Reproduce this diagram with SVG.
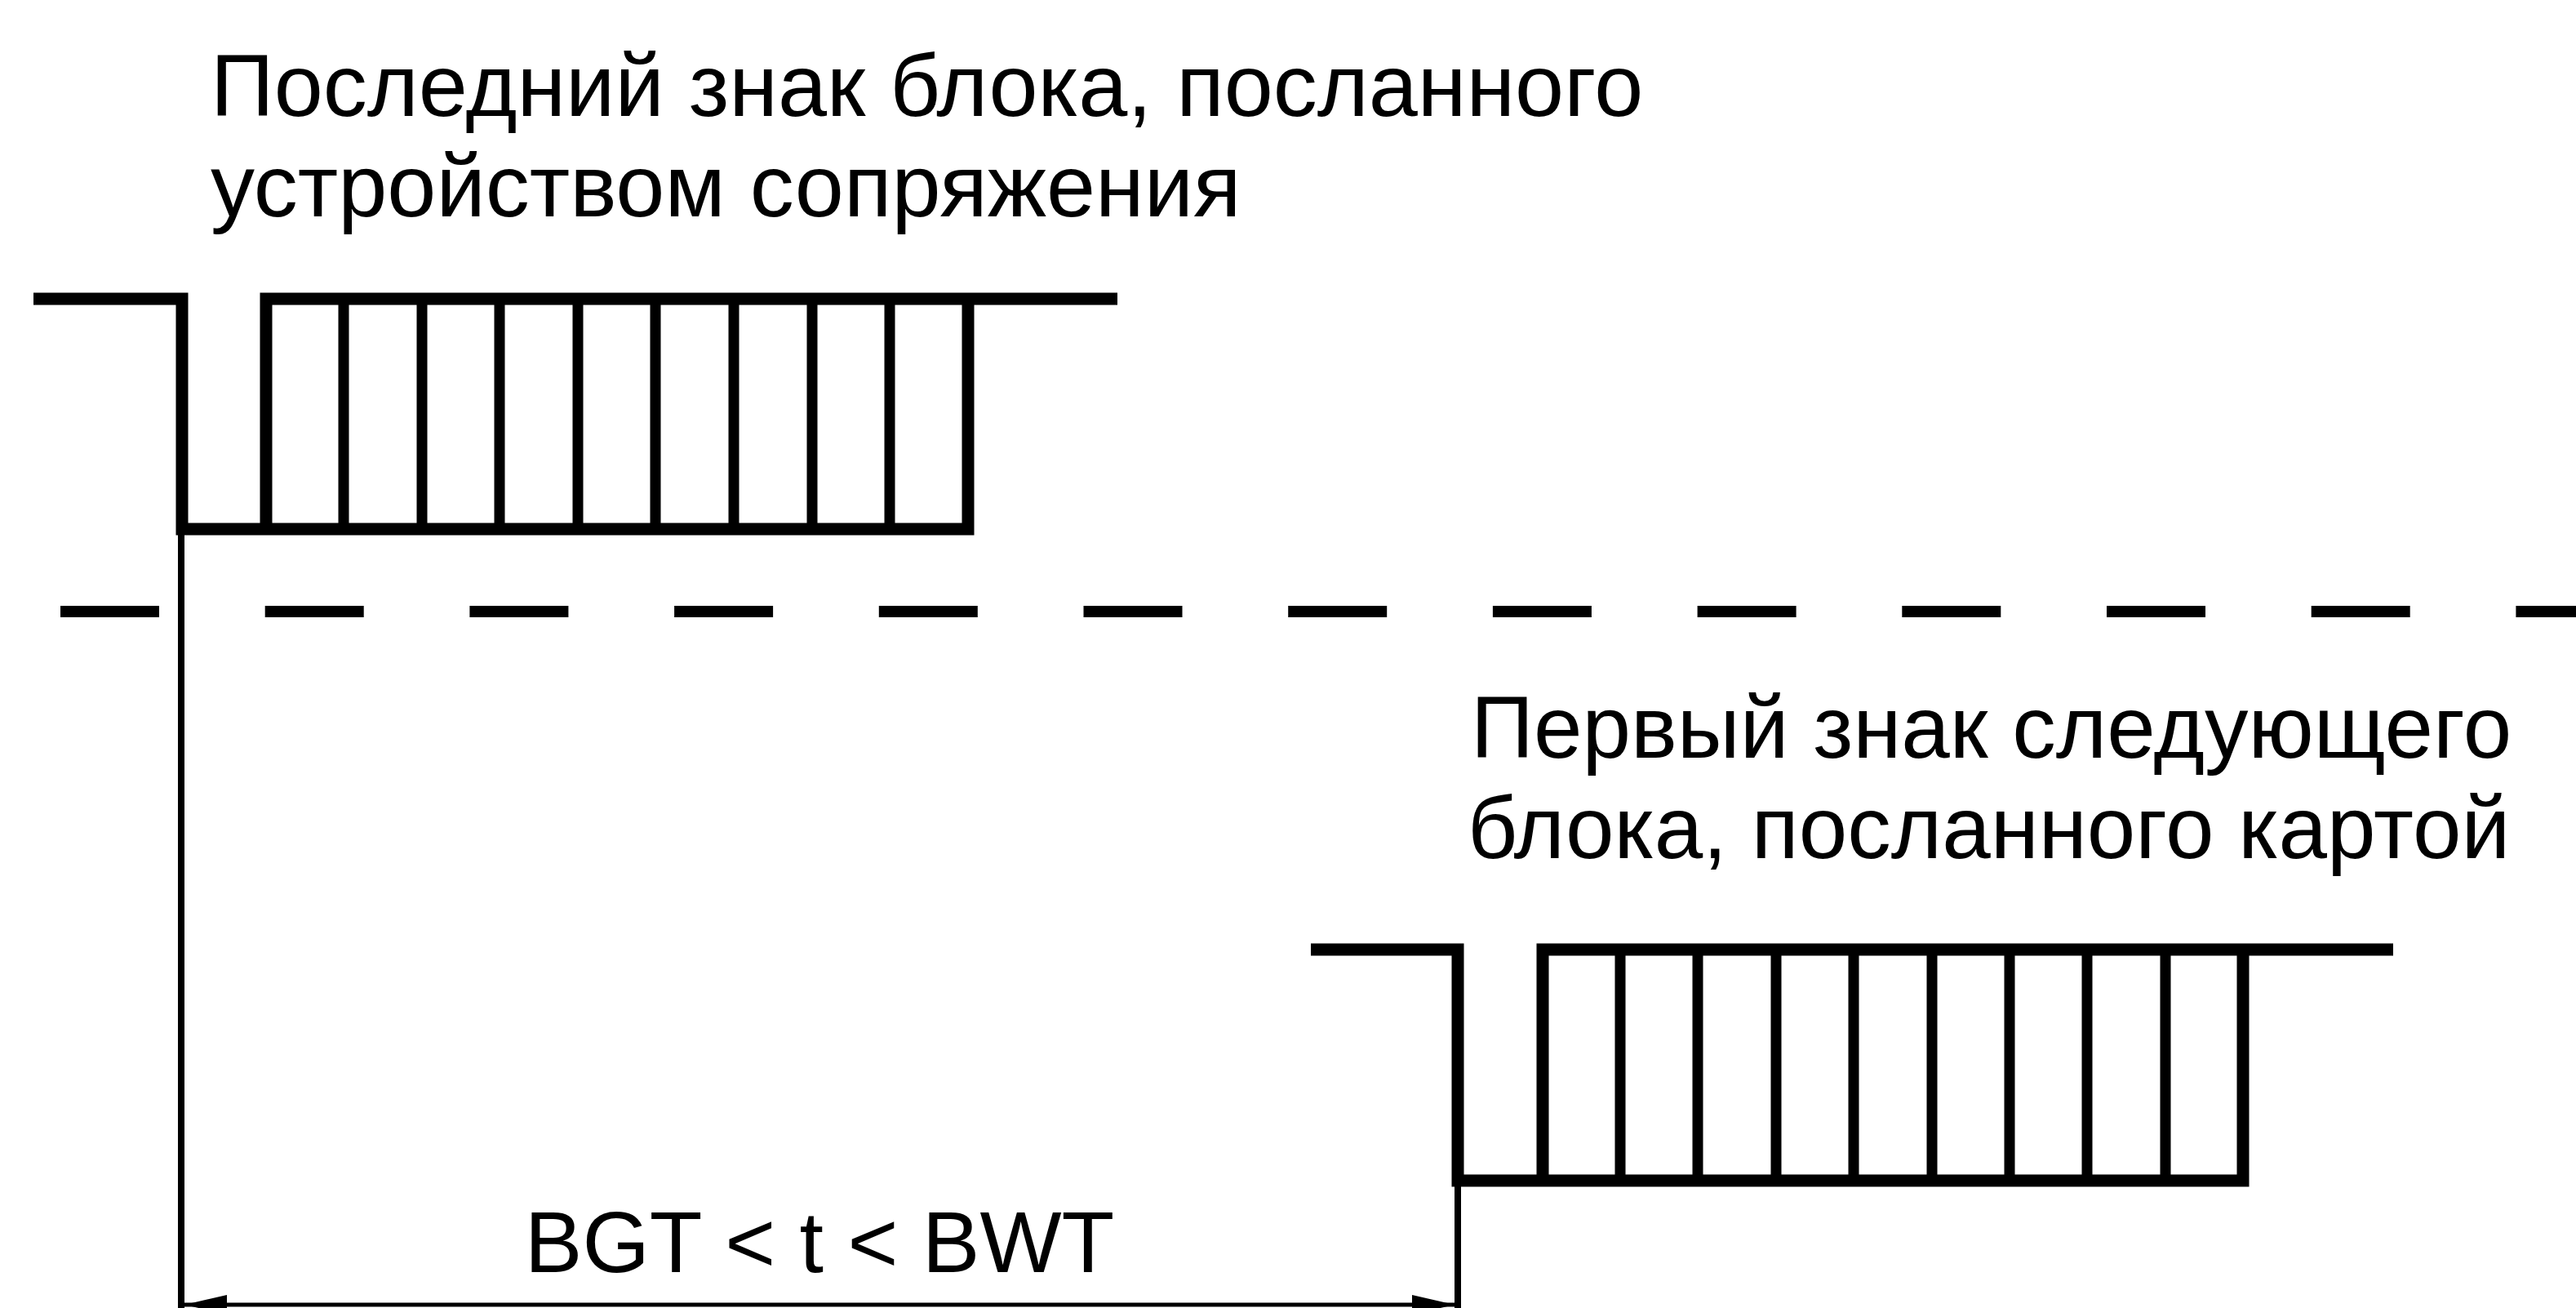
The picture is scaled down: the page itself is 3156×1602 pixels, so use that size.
<svg xmlns="http://www.w3.org/2000/svg" width="3156" height="1602" viewBox="0 0 3156 1602">
  <style>
    .lbl { font-family: "Liberation Sans", Arial, sans-serif; font-size: 107px; fill: #000; }
    .sig { fill: none; stroke: #000; stroke-width: 15; stroke-linejoin: miter; stroke-linecap: butt; }
    .sep { stroke: #000; stroke-width: 13; }
    .ext { stroke: #000; stroke-width: 8; }
    .dim { stroke: #000; stroke-width: 5; fill: none; }
    .dash { stroke: #000; stroke-width: 14; stroke-dasharray: 121 129.7; }
  </style>
  <defs>
    <marker id="arr" markerUnits="userSpaceOnUse" viewBox="0 0 52 24" refX="52" refY="12" markerWidth="52" markerHeight="24" orient="auto-start-reverse">
      <path d="M0 0 L52 12 L0 24 Z" fill="#000"/>
    </marker>
  </defs>
  <rect width="3156" height="1602" fill="#fff"/>

  <g id="label-top">
    <text class="lbl" x="258" y="142" style="font-size:108px">Последний знак блока, посланного</text>
    <text class="lbl" x="258" y="265" style="font-size:108px">устройством сопряжения</text>
  </g>

  <g id="signal-top">
    <path class="sig" d="M41 366 H223 V648 H1186 V366 M326 648 V366 H1369"/>
    <g class="sep">
      <line x1="421" y1="366" x2="421" y2="648"/>
      <line x1="517" y1="366" x2="517" y2="648"/>
      <line x1="612" y1="366" x2="612" y2="648"/>
      <line x1="708" y1="366" x2="708" y2="648"/>
      <line x1="803" y1="366" x2="803" y2="648"/>
      <line x1="899" y1="366" x2="899" y2="648"/>
      <line x1="995" y1="366" x2="995" y2="648"/>
      <line x1="1090" y1="366" x2="1090" y2="648"/>
    </g>
  </g>

  <g id="divider">
    <line class="dash" x1="74" y1="749" x2="3156" y2="749"/>
  </g>

  <g id="label-bottom">
    <text class="lbl" x="1802" y="928">Первый знак следующего</text>
    <text class="lbl" x="1798" y="1051">блока, посланного картой</text>
  </g>

  <g id="signal-bottom">
    <path class="sig" d="M1606 1163 H1786 V1446 H2748 V1163 M1890 1446 V1163 H2932"/>
    <g class="sep">
      <line x1="1985" y1="1163" x2="1985" y2="1446"/>
      <line x1="2080" y1="1163" x2="2080" y2="1446"/>
      <line x1="2176" y1="1163" x2="2176" y2="1446"/>
      <line x1="2271" y1="1163" x2="2271" y2="1446"/>
      <line x1="2367" y1="1163" x2="2367" y2="1446"/>
      <line x1="2462" y1="1163" x2="2462" y2="1446"/>
      <line x1="2557" y1="1163" x2="2557" y2="1446"/>
      <line x1="2653" y1="1163" x2="2653" y2="1446"/>
    </g>
  </g>

  <g id="connectors">
    <line class="ext" x1="222" y1="648" x2="222" y2="1602"/>
    <line class="ext" x1="1786" y1="1446" x2="1786" y2="1602"/>
    <line class="dim" x1="226" y1="1598" x2="1782" y2="1598" marker-start="url(#arr)" marker-end="url(#arr)"/>
  </g>

  <g id="label-dim">
    <text class="lbl" x="1004" y="1558" text-anchor="middle" style="font-size:106px">BGT &lt; t &lt; BWT</text>
  </g>
</svg>
